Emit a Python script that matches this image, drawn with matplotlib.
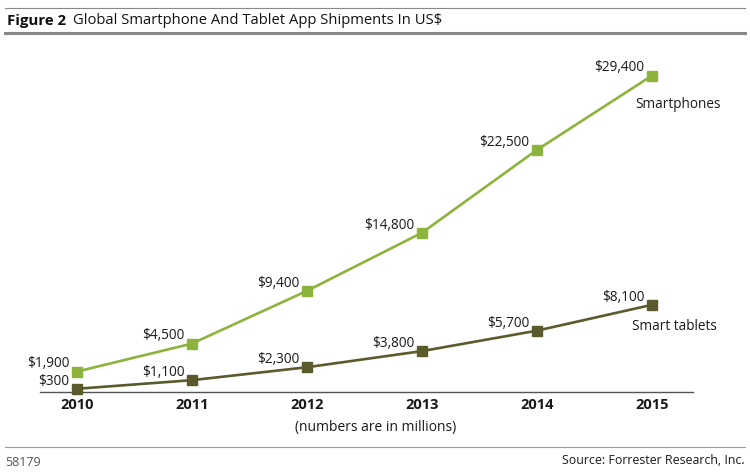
import matplotlib
matplotlib.use("Agg")
import matplotlib.pyplot as plt
from matplotlib.lines import Line2D

plt.rcParams['font.family'] = ['Open Sans', 'DejaVu Sans']

years = [2010, 2011, 2012, 2013, 2014, 2015]
smartphones = [1900, 4500, 9400, 14800, 22500, 29400]
tablets = [300, 1100, 2300, 3800, 5700, 8100]
series_names = ["Smartphones", "Smart tablets"]

W, H = 750, 472
fig = plt.figure(figsize=(W / 100, H / 100), dpi=100)

def fx(px):
    return px / W

def fy(py):
    return 1 - py / H

ax = fig.add_axes([fx(40), fy(392), fx(693) - fx(40), fy(50) - fy(392)])
ax.set_xlim(2009.678, 2015.357)
ax.set_ylim(0, 31780)

green = "#8cb43c"
dark = "#5b5a2c"
txt = "#1a1a1a"

ax.plot(years, smartphones, color=green, lw=1.9, marker="s", ms=6.8, clip_on=False, zorder=3)
ax.plot(years, tablets, color=dark, lw=1.9, marker="s", ms=6.8, clip_on=False, zorder=3)

for x, v in zip(years, smartphones):
    ax.annotate(f"${v:,}", (x, v), xytext=(-5.5, 5.5), textcoords="offset points",
                ha="right", va="center", fontsize=9.8, color=txt)
for x, v in zip(years, tablets):
    ax.annotate(f"${v:,}", (x, v), xytext=(-5.5, 5.5), textcoords="offset points",
                ha="right", va="center", fontsize=9.8, color=txt)

ax.annotate(series_names[0], (years[-1], smartphones[-1]), xytext=(-12, -20.5),
            textcoords="offset points", ha="left", va="center", fontsize=9.8, color=txt)
ax.annotate(series_names[1], (years[-1], tablets[-1]), xytext=(-14.4, -15.4),
            textcoords="offset points", ha="left", va="center", fontsize=9.8, color=txt)

for s in ["top", "right", "left"]:
    ax.spines[s].set_visible(False)
ax.spines["bottom"].set_color("#555555")
ax.spines["bottom"].set_linewidth(1.0)
ax.set_yticks([])
ax.set_xticks(years)
ax.set_xticklabels([str(y) for y in years], fontsize=10.5, fontweight="bold", color=txt)
ax.tick_params(axis="x", length=0, pad=4)
ax.patch.set_alpha(0)

# figure decorations
fig.add_artist(Line2D([fx(5), fx(745)], [fy(8), fy(8)], color="#888888", lw=0.8))
fig.add_artist(Line2D([fx(5), fx(745)], [fy(33), fy(33)], color="#888888", lw=2.2))
fig.add_artist(Line2D([fx(5), fx(745)], [fy(447), fy(447)], color="#999999", lw=0.8))

fig.text(fx(7), fy(21), "Figure 2", fontsize=10.8, fontweight="bold", va="center", ha="left", color="#111111")
fig.text(fx(73), fy(21), "Global Smartphone And Tablet App Shipments In US$", fontsize=10.6,
         va="center", ha="left", color="#111111")
fig.text(fx(376), fy(428), "(numbers are in millions)", fontsize=10, ha="center", va="center", color=txt)
fig.text(fx(5), fy(462), "58179", fontsize=9, ha="left", va="center", color="#555555")
fig.text(fx(745), fy(460), "Source: Forrester Research, Inc.", fontsize=8.9, ha="right", va="center", color=txt)

fig.savefig("out.png", dpi=100)
